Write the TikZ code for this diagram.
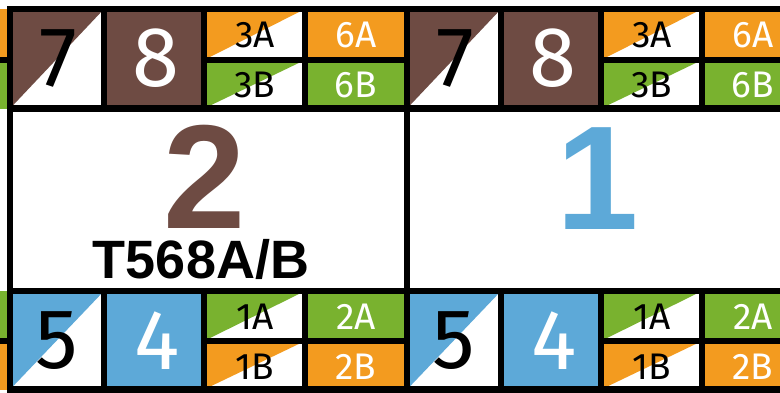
\documentclass[tikz,border=0pt]{standalone}
\usepackage{fontspec}
\setmainfont{Fira Sans}
\newfontfamily\arb{Liberation Sans}
\definecolor{cbrown}{HTML}{6E4B43}
\definecolor{corange}{HTML}{F39B1F}
\definecolor{cgreen}{HTML}{79B22F}
\definecolor{cblue}{HTML}{5DA9D8}
\tikzset{
  grid/.style={draw=black, line width=6.5pt},
  bigdigit/.style={font=\fontsize{85}{85}\selectfont, inner sep=0pt},
  small/.style={font=\fontsize{37}{37}\selectfont, inner sep=0pt},
}
\begin{document}
\begin{tikzpicture}[x=1pt,y=-1pt]
\useasboundingbox (0,0) rectangle (780,392);
\clip (0,0) rectangle (780,392);
\fill[white] (0,0) rectangle (780,392);
% left strip (remains of previous unit)
\fill[corange] (-92,9) rectangle (10,60);
\fill[cgreen] (-92,60) rectangle (10,108.5);
\fill[cgreen] (-92,291) rectangle (10,341);
\fill[corange] (-92,341) rectangle (10,389.5);
\draw[grid] (-92,60) -- (10,60) (-92,341) -- (10,341);
\foreach \o/\u in {0/a,397/b}{
  \begin{scope}[xshift=\o pt]
  % top row fills
  \fill[cbrown] (10,108.5) -- (10,9) -- (104,9) -- cycle;
  \fill[cbrown] (104,9) rectangle (204,108.5);
  \fill[corange] (204,60) -- (204,9) -- (305,9) -- cycle;
  \fill[cgreen] (204,108.5) -- (204,60) -- (305,60) -- cycle;
  \fill[corange] (305,9) rectangle (407,60);
  \fill[cgreen] (305,60) rectangle (407,108.5);
  % bottom row fills
  \fill[cblue] (10,389.5) -- (10,291) -- (104,291) -- cycle;
  \fill[cblue] (104,291) rectangle (204,389.5);
  \fill[cgreen] (204,341) -- (204,291) -- (305,291) -- cycle;
  \fill[corange] (204,389.5) -- (204,341) -- (305,341) -- cycle;
  \fill[cgreen] (305,291) rectangle (407,341);
  \fill[corange] (305,341) rectangle (407,389.5);
  % grid
  \draw[grid] (10,9) rectangle (407,389.5);
  \draw[grid] (10,108.5) -- (407,108.5) (10,291) -- (407,291);
  \draw[grid] (104,9) -- (104,108.5) (204,9) -- (204,108.5) (305,9) -- (305,108.5);
  \draw[grid] (104,291) -- (104,389.5) (204,291) -- (204,389.5) (305,291) -- (305,389.5);
  \draw[grid] (204,60) -- (407,60) (204,341) -- (407,341);
  % texts
  \node[bigdigit, text=black] (seven\u) at (58,58.5) {7};
  \node[bigdigit, text=white] (eight\u) at (156,58.5) {8};
  \node[small, text=black] (tA\u) at (255,35) {3A};
  \node[small, text=black] (tB\u) at (255,85) {3B};
  \node[small, text=white] (sA\u) at (356,35) {6A};
  \node[small, text=white] (sB\u) at (356,85) {6B};
  \node[bigdigit, text=black] (five\u) at (57,340.5) {5};
  \node[bigdigit, text=white] (four\u) at (157,340.5) {4};
  \node[small, text=black] (oA\u) at (255,316.5) {1A};
  \node[small, text=black] (oB\u) at (255,366.5) {1B};
  \node[small, text=white] (wA\u) at (356,316.5) {2A};
  \node[small, text=white] (wB\u) at (356,366.5) {2B};
  \end{scope}
}
\node[inner sep=0pt, text=cbrown, font=\arb\bfseries\fontsize{148}{148}\selectfont] (two) at (205,177) {2};
\node[inner sep=0pt, text=black, font=\arb\bfseries\fontsize{54}{54}\selectfont] (std) at (201,259) {T568A/B};
\node[inner sep=0pt, text=cblue, font=\arb\bfseries\fontsize{148}{148}\selectfont] (one) at (598,179) {1};
\end{tikzpicture}
\end{document}
